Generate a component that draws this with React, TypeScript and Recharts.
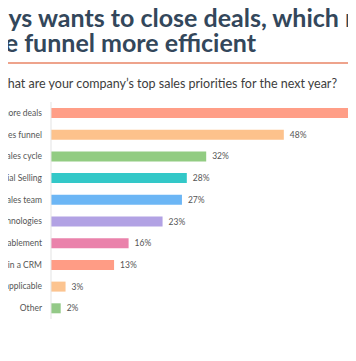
import { BarChart, Bar, XAxis, YAxis, Cell, LabelList } from "recharts";

const priorities = [
  "Closing more deals",
  "Improving the efficiency of the sales funnel",
  "Reducing the length of the sales cycle",
  "Social Selling",
  "Growing the size of the sales team",
  "Investing in sales enablement technologies",
  "Sales enablement",
  "Investing in a CRM",
  "Not applicable",
  "Other",
];
const shares = [75, 48, 32, 28, 27, 23, 16, 13, 3, 2];
const barColors = [
  "#ff9e87", "#fdc28c", "#92cc82", "#33c8c8", "#6cb6f5",
  "#b2a2e4", "#ea82ab", "#ff9c85", "#fcc490", "#93c987",
];

const data = priorities.map((name, i) => ({ name, value: shares[i] }));

const font = "Lato, 'Noto Sans', sans-serif";

// plain one-line tick, recharts would wrap the long names otherwise
const CategoryTick = (props: any) => {
  const { x, y, payload } = props;
  return (
    <text
      x={x}
      y={y}
      dy={3}
      textAnchor="end"
      fontSize={8.5}
      fill="#555"
      fontFamily={font}
    >
      {payload.value}
    </text>
  );
};

const titleStyle = {
  position: "absolute" as const,
  whiteSpace: "nowrap" as const,
  fontSize: 25,
  fontWeight: 700,
  color: "#33475b",
  lineHeight: "30px",
};

export default function App() {
  return (
    <div
      style={{
        position: "relative",
        width: 356,
        height: 361,
        overflow: "hidden",
        margin: -8,
        background: "#fff",
        fontFamily: font,
      }}
    >
      <div style={{ ...titleStyle, right: -10, top: 2 }}>
        Everyone always wants to close deals, which m
      </div>
      <div style={{ ...titleStyle, right: 100, top: 27 }}>
        and makes the funnel more efficient
      </div>
      <div
        style={{
          position: "absolute",
          left: 0,
          top: 62,
          width: 356,
          height: 2,
          background: "#eea38c",
        }}
      />
      <div
        style={{
          position: "absolute",
          right: 19,
          top: 76,
          whiteSpace: "nowrap",
          fontSize: 12.5,
          color: "#3d3d3d",
          lineHeight: "16px",
        }}
      >
        What are your company’s top sales priorities for the next year?
      </div>
      <div style={{ position: "absolute", left: -149, top: 0 }}>
        <BarChart
          width={685}
          height={361}
          data={data}
          layout="vertical"
          margin={{ top: 102, right: 0, bottom: 42, left: 0 }}
        >
          <XAxis type="number" domain={[0, 100]} hide />
          <YAxis
            type="category"
            dataKey="name"
            width={200}
            tickLine={false}
            tickSize={0}
            tickMargin={9}
            axisLine={{ stroke: "#e3e3e3", strokeWidth: 1 }}
            tick={<CategoryTick />}
            interval={0}
          />
          <Bar dataKey="value" barSize={10} isAnimationActive={false}>
            {data.map((d, i) => (
              <Cell key={d.name} fill={barColors[i]} />
            ))}
            <LabelList
              dataKey="value"
              position="right"
              offset={6}
              formatter={(v: number) => `${v}%`}
              style={{ fontSize: 8.5, fill: "#555", fontFamily: font }}
            />
          </Bar>
        </BarChart>
      </div>
    </div>
  );
}
